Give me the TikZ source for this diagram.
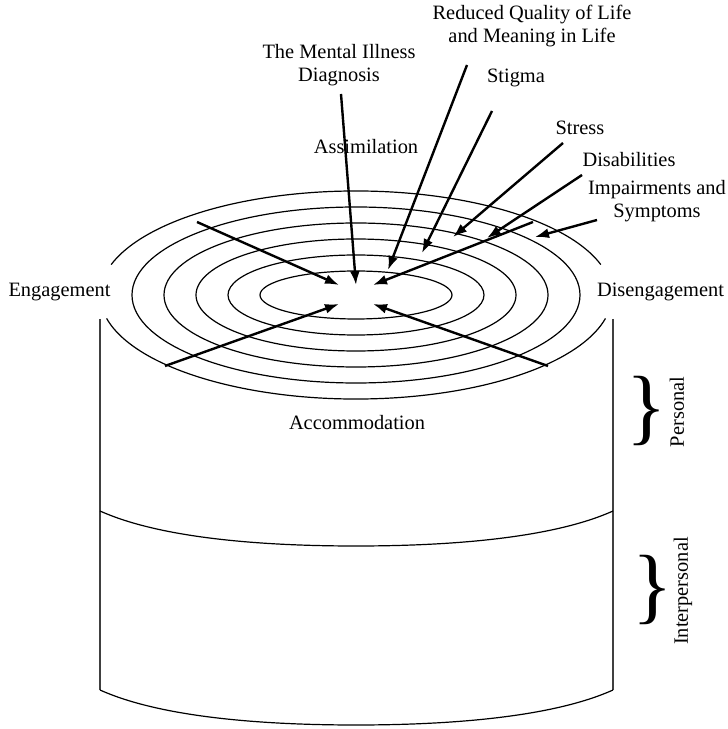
\documentclass[tikz,border=0pt]{standalone}
\usepackage{fontspec}
\setmainfont{Liberation Serif}
\usetikzlibrary{arrows.meta}
\begin{document}
\begin{tikzpicture}[x=0.5pt, y=0.5pt]
        \useasboundingbox (0,0) rectangle (728,729);
        \begin{scope}
            \tikzstyle{every path}=[draw=black, line width=0.6pt]
            % rings, the outer one is broken at both sides
            \foreach \a/\b in {96/24, 128/40, 160/56, 192/72, 224/88}
                \draw (356,434) ellipse [x radius=\a, y radius=\b];
            \draw (600.8,464.4) arc[start angle=17, end angle=163, x radius=256, y radius=104];
            \draw (106.6,410.6) arc[start angle=193, end angle=347, x radius=256, y radius=104];
            % cylinder
            \draw[black!75] (100,410) -- (100,39);
            \draw[black!75] (613,410) -- (613,39);
            \draw (100,218) .. controls (160,191) and (260,183) .. (356,183) .. controls (452,183) and (553,191) .. (613,218);
            \draw (100,39) .. controls (160,12) and (260,4) .. (356,4) .. controls (452,4) and (553,12) .. (613,39);
        \end{scope}
        \begin{scope}
            \tikzstyle{every node}=[font=\fontsize{10.2}{11.5}\selectfont, align=center, inner sep=0pt, text=black]
            \node (diag) at (339,664) {The Mental Illness\\Diagnosis};
            \node (qual) at (532,702.5) {Reduced Quality of Life\\and Meaning in Life};
            \node (stig) at (516,651) {Stigma};
            \node (stre) at (580,601) {Stress};
            \node (disa) at (629,569) {Disabilities};
            \node (impa) at (657,528) {Impairments and\\Symptoms};
            \node (assi) at (366,582) {Assimilation};
            \node (enga) at (59.5,437) {Engagement};
            \node (dise) at (660.5,437) {Disengagement};
            \node (acco) at (357,306) {Accommodation};
            \node[rotate=90] (pers) at (677,317) {Personal};
            \node[rotate=90] (inte) at (683,138) {Interpersonal};
            \node[font=\fontsize{42}{42}\selectfont] (persB) at (647,318) {\}};
            \node[font=\fontsize{42}{42}\selectfont] (inteB) at (653,139) {\}};
        \end{scope}
        \begin{scope}
            \coordinate (ulT) at (197,507); \coordinate (ulH) at (339,444);
            \coordinate (llT) at (165,363); \coordinate (llH) at (339,425);
            \coordinate (lrT) at (548,363); \coordinate (lrH) at (373,425);
            \coordinate (urT) at (533,507); \coordinate (urH) at (373,444);
            \coordinate (diagT) at (341,635); \coordinate (diagH) at (356,444);
            \coordinate (qualT) at (467,664); \coordinate (qualH) at (388,459);
            \coordinate (stigT) at (492,618); \coordinate (stigH) at (422,476);
            \coordinate (streT) at (563,586); \coordinate (streH) at (453,492);
            \coordinate (disaT) at (582,554); \coordinate (disaH) at (487,491);
            \coordinate (impaT) at (597,509); \coordinate (impaH) at (535,492);
        \end{scope}
        \begin{scope}
            \tikzstyle{every edge}=[draw, line width=1.2pt, -{Latex[length=7pt,width=5pt]}]
            \path
            (ulT) edge (ulH)
            (llT) edge (llH)
            (lrT) edge (lrH)
            (urT) edge (urH)
            (diagT) edge (diagH)
            (qualT) edge (qualH)
            (stigT) edge (stigH)
            (streT) edge (streH)
            (disaT) edge (disaH)
            (impaT) edge (impaH)
            ;
        \end{scope}
    \end{tikzpicture}
\end{document}
